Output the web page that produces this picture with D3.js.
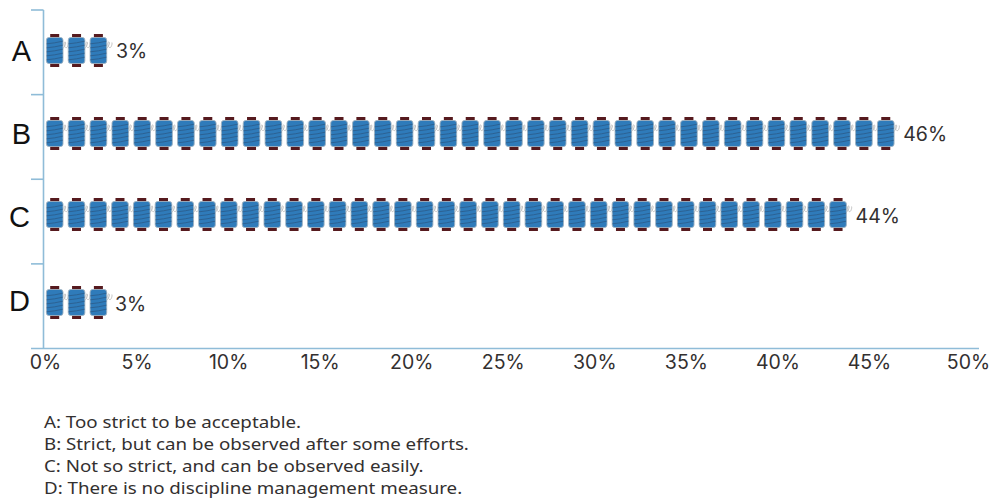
<!DOCTYPE html>
<html>
<head>
<meta charset="utf-8">
<script src="https://cdnjs.cloudflare.com/ajax/libs/d3/7.8.5/d3.min.js"></script>
<style>
html, body { margin: 0; padding: 0; background: #fff; }
svg { display: block; }
</style>
</head>
<body>
<svg id="chart" width="990" height="501"></svg>
<script>
const categories = ["A", "B", "C", "D"];
const percentages = [3, 46, 44, 3];
const tickValues = [0, 5, 10, 15, 20, 25, 30, 35, 40, 45, 50];
const notes = [
  "A: Too strict to be acceptable.",
  "B: Strict, but can be observed after some efforts.",
  "C: Not so strict, and can be observed easily.",
  "D: There is no discipline management measure."
];
// Hand adjustments for each row, kept apart from the values.
const rowCenters = [50.5, 133.5, 214.5, 302.5];
const rowSteps = [21.85, 21.87, 21.76, 21.85];
const letterOffsets = [[-1, -1], [-1, -3], [-2, -5], [-2, -5]];
const valueLabelOffsets = [[0, 0], [0, 0], [0, 1], [-1, 1]];

const axisColor = "#8fbcd8";
const textColor = "#333030";
const numberFont = "Inter, 'Noto Sans', sans-serif";
const noteFont = "'Noto Sans', sans-serif";

const svg = d3.select("#chart");
const x = d3.scaleLinear().domain([0, 50]).range([45, 960.5]);
const y = d3.scaleBand().domain(categories).range([10, 348.5]);

// One spool per 21.85px of bar length; the bar's length sets the count.
const spoolStart = 54.7;
const spoolCount = v => Math.ceil((x(v) - x(0)) / 21.85);

function drawSpool(g) {
  // loose thread trailing to the right
  g.append("path")
    .attr("d", "M7,-1 C10,-3 12,-8 10.5,-8.5 C9,-9 9,-4 11,-3 C13,-2 14,-7 13.5,-8")
    .attr("fill", "none")
    .attr("stroke", "#c4c4c4")
    .attr("stroke-width", 1);
  // flanges
  g.append("rect").attr("x", -4.5).attr("y", -16.5).attr("width", 9).attr("height", 33).attr("fill", "#561a1e");
  // wound body
  g.append("rect").attr("x", -8.3).attr("y", -13).attr("width", 16.6).attr("height", 26).attr("rx", 2.5)
    .attr("fill", "#2f7bba").attr("stroke", "#9fb2c2").attr("stroke-width", 0.9);
  // thread windings
  g.selectAll("path.winding").data([-8, -4, 0, 4, 8]).join("path")
    .attr("class", "winding")
    .attr("d", d => `M-8,${d + 1.3} Q0,${d + 0.6} 8,${d - 1.3}`)
    .attr("stroke", "#2b5f8f")
    .attr("stroke-width", 0.9)
    .attr("fill", "none");
}

// axes
const xAxis = d3.axisBottom(x).tickValues(tickValues).tickSize(0).tickPadding(5).tickFormat(d => d + "%");
const xG = svg.append("g").attr("transform", "translate(0,348.5)").call(xAxis);
xG.select(".domain").remove();
xG.selectAll("text")
  .attr("font-family", numberFont).attr("font-size", 19.5).attr("fill", textColor).attr("dy", "0.78em")
  .attr("dx", d => d === 50 ? 7.5 : 0);
svg.append("line").attr("x1", 31).attr("x2", 979).attr("y1", 348.5).attr("y2", 348.5).attr("stroke", axisColor).attr("stroke-width", 1.6);

// category letters
svg.selectAll("text.letter").data(categories).join("text")
  .attr("class", "letter")
  .attr("x", (c, i) => 32 + letterOffsets[i][0])
  .attr("y", (c, i) => y(c) + y.bandwidth() / 2 + letterOffsets[i][1])
  .attr("dy", "0.35em")
  .attr("text-anchor", "end")
  .attr("font-family", "'Liberation Sans', Arial, sans-serif")
  .attr("font-size", 29)
  .attr("fill", "#111")
  .text(c => c);

svg.append("line").attr("x1", 43.5).attr("x2", 43.5).attr("y1", 10).attr("y2", 348.5).attr("stroke", axisColor).attr("stroke-width", 1.6);
svg.selectAll("line.boundary").data([0, 1, 2, 3]).join("line")
  .attr("class", "boundary")
  .attr("x1", 31).attr("x2", 43.5)
  .attr("y1", i => y(categories[i]))
  .attr("y2", i => y(categories[i]))
  .attr("stroke", axisColor).attr("stroke-width", 1.6);

// spool rows and their value labels
categories.forEach((c, i) => {
  const row = svg.append("g").attr("transform", `translate(0,${rowCenters[i]})`);
  const step = rowSteps[i];
  const n = spoolCount(percentages[i]);
  row.selectAll("g.spool").data(d3.range(n)).join("g")
    .attr("class", "spool")
    .attr("transform", k => `translate(${spoolStart + k * step},0)`)
    .each(function () { drawSpool(d3.select(this)); });
  row.append("text")
    .attr("x", spoolStart + (n - 1) * step + 8.5 + 9 + valueLabelOffsets[i][0])
    .attr("y", 7.5 + valueLabelOffsets[i][1])
    .attr("font-family", numberFont)
    .attr("font-size", 19.5)
    .attr("fill", textColor)
    .text(percentages[i] + "%");
});

// legend notes below the chart, set slightly wide
svg.append("g").attr("transform", "translate(44,0) scale(1.103,1)")
  .selectAll("text.note").data(notes).join("text")
  .attr("class", "note")
  .attr("x", 0)
  .attr("y", (d, i) => 428 + i * 22)
  .attr("font-family", noteFont)
  .attr("font-size", 17)
  .attr("fill", textColor)
  .text(d => d);
</script>
</body>
</html>
